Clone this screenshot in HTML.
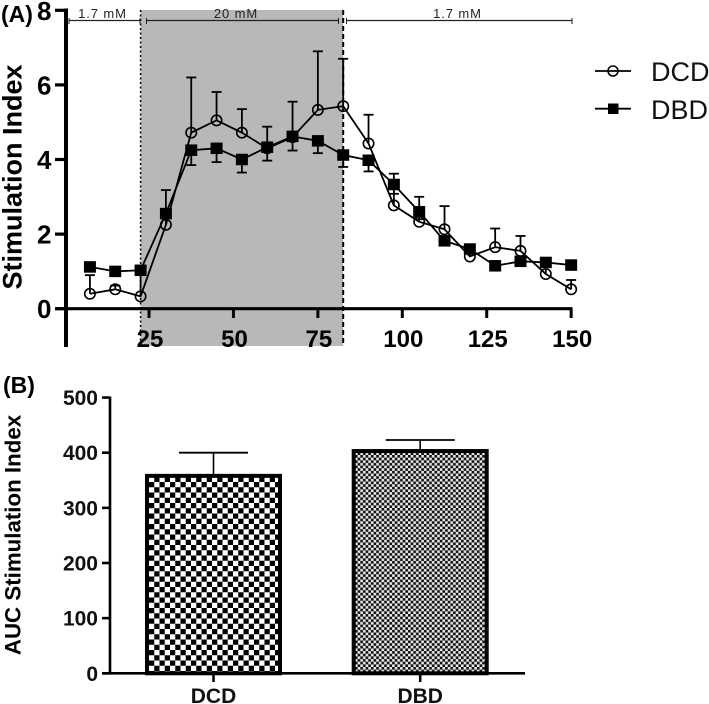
<!DOCTYPE html>
<html lang="en">
<head>
<meta charset="utf-8">
<title>Stimulation Index chart</title>
<style>
html,body{margin:0;padding:0;background:#fff;width:709px;height:704px;overflow:hidden}
svg{display:block;font-family:"Liberation Sans",sans-serif}
</style>
</head>
<body>
<svg id="chart" width="709" height="704" viewBox="0 0 709 704" xmlns="http://www.w3.org/2000/svg">
<defs>
<pattern id="check-dcd" width="10.5" height="10.5" patternUnits="userSpaceOnUse" x="149" y="482">
<rect width="10.5" height="10.5" fill="#fff"/>
<rect width="5.25" height="5.25" fill="#000"/>
<rect x="5.25" y="5.25" width="5.25" height="5.25" fill="#000"/>
</pattern>
<pattern id="check-dbd" width="5.3" height="5.3" patternUnits="userSpaceOnUse" x="355" y="455">
<rect width="5.3" height="5.3" fill="#e8e8e8"/>
<rect width="2.65" height="2.65" fill="#111"/>
<rect x="2.65" y="2.65" width="2.65" height="2.65" fill="#111"/>
</pattern>
</defs>
</svg>
<script>
var timeTicks = [25, 50, 75, 100, 125, 150];
var siTicks = [0, 2, 4, 6, 8];
var times = [7.5, 15, 22.5, 30, 37.5, 45, 52.5, 60, 67.5, 75, 82.5, 90, 97.5, 105, 112.5, 120, 127.5, 135, 142.5, 150];
var dcdValues = [0.4, 0.52, 0.33, 2.25, 4.72, 5.05, 4.72, 4.3, 4.6, 5.33, 5.43, 4.43, 2.77, 2.33, 2.13, 1.4, 1.65, 1.55, 0.93, 0.52];
var dbdValues = [1.12, 1.0, 1.03, 2.55, 4.25, 4.3, 4.0, 4.33, 4.62, 4.5, 4.12, 3.98, 3.33, 2.6, 1.82, 1.6, 1.15, 1.27, 1.24, 1.17];
var dcdErrors = [0.5, 0.1, 0.6, 0.93, 1.48, 0.76, 0.63, 0.58, 0.95, 1.57, 1.27, 0.77, 0.85, 0.67, 0.62, 0.2, 0.5, 0.4, 0.2, 0.25];
var dbdErrors = [0.05, 0.05, 0.05, 0.1, 0.4, 0.37, 0.35, 0.36, 0.38, 0.33, 0.32, 0.3, 0.25, 0.2, 0.1, 0.1, 0.05, 0.05, 0.05, 0.05];
var aucTicks = [0, 100, 200, 300, 400, 500];
var aucGroups = ["DCD", "DBD"];
var aucValues = [358, 403];
var aucErrors = [42, 20];

var svg = document.getElementById('chart');
var NS = 'http://www.w3.org/2000/svg';
function add(tag, attrs, name, text) {
  var el = document.createElementNS(NS, tag);
  for (var k in attrs) { el.setAttribute(k, attrs[k]); }
  
  
  if (text !== undefined) { el.textContent = text; }
  svg.appendChild(el);
  return el;
}
function line(x1, y1, x2, y2, w, name, extra) {
  var a = {x1: x1, y1: y1, x2: x2, y2: y2, stroke: '#000', 'stroke-width': w};
  if (extra) { for (var k in extra) { a[k] = extra[k]; } }
  return add('line', a, name);
}
function xA(v) { return 64.6 + v * 3.377; }
function yA(v) { return 308.7 - v * 37.3; }
function yB(v) { return 673.3 - v * 0.5515; }

/* Panel A: shaded window */
add('rect', {x: xA(22.5), y: 10, width: xA(82.5) - xA(22.5), height: 336, fill: '#b8b8b8'}, 'high-glucose-shading');
line(xA(22.5), 10, xA(22.5), 346, 1.5, 'shading-left-boundary', {'stroke-dasharray': '2 2.5'});
line(xA(82.5), 10, xA(82.5), 346, 2, 'shading-right-boundary', {'stroke-dasharray': '5 3'});

/* Panel A: concentration brackets */
function bracket(x1, x2, label, tx, name) {
  line(x1, 20.5, x2, 20.5, 1.2, name + '-bracket', {stroke: '#222'});
  line(x1, 18, x1, 24, 1, name + '-cap-left', {stroke: '#222'});
  line(x2, 18, x2, 24, 1, name + '-cap-right', {stroke: '#222'});
  add('text', {x: tx, y: 18, 'text-anchor': 'middle', 'font-size': 13, 'letter-spacing': '0.9', fill: '#222'}, name + '-label', label);
}
bracket(69, 140, '1.7 mM', 102.5, 'low-glucose-pre');
bracket(146.5, 338.5, '20 mM', 236, 'high-glucose');
bracket(346.5, 572, '1.7 mM', 457.5, 'low-glucose-post');

/* Panel A: axes */
line(66, 8.5, 66, 347, 4, 'y-axis-a');
line(55, 308.7, 572.5, 308.7, 3.2, 'x-axis-a');
siTicks.forEach(function (t) {
  line(55, yA(t), 66, yA(t), 3.2, 'y-tick-a-' + t);
  add('text', {x: 51.5, y: yA(t) + 9.5, 'text-anchor': 'end', 'font-size': 26, 'font-weight': 'bold'}, 'y-tick-label-a-' + t, String(t));
});
timeTicks.forEach(function (t) {
  line(xA(t), 308.7, xA(t), 318, 3, 'x-tick-a-' + t);
  add('text', {x: xA(t) + 1, y: 347, 'text-anchor': 'middle', 'font-size': 24, 'font-weight': 'bold'}, 'x-tick-label-a-' + t, String(t));
});
add('text', {x: 0, y: 0, transform: 'translate(21.5,177) rotate(-90)', 'text-anchor': 'middle', 'font-size': 27, 'font-weight': 'bold'}, 'y-axis-title-a', 'Stimulation Index');
add('text', {x: 1, y: 22, 'font-size': 23, 'font-weight': 'bold'}, 'panel-a-label', '(A)');

/* Panel A: one-sided error bars (DCD upward, DBD downward) */
function errorBar(x, from, to, name) {
  line(x, from, x, to, 1.8, name);
  line(x - 5, to, x + 5, to, 1.8, name + '-cap');
}
times.forEach(function (t, i) {
  errorBar(xA(t), yA(dcdValues[i]), yA(dcdValues[i] + dcdErrors[i]), 'dcd-error-' + t);
  errorBar(xA(t), yA(dbdValues[i]), yA(dbdValues[i] - dbdErrors[i]), 'dbd-error-' + t);
});

/* Panel A: series */
function pts(vals) {
  return times.map(function (t, i) { return xA(t) + ',' + yA(vals[i]); }).join(' ');
}
add('polyline', {points: pts(dcdValues), fill: 'none', stroke: '#000', 'stroke-width': 1.8}, 'dcd-line');
add('polyline', {points: pts(dbdValues), fill: 'none', stroke: '#000', 'stroke-width': 1.8}, 'dbd-line');
times.forEach(function (t, i) {
  add('circle', {cx: xA(t), cy: yA(dcdValues[i]), r: 5.2, fill: 'none', stroke: '#000', 'stroke-width': 1.6}, 'dcd-point-' + t);
  add('rect', {x: xA(t) - 6, y: yA(dbdValues[i]) - 5.75, width: 12, height: 11.5, fill: '#000'}, 'dbd-point-' + t);
});

/* Panel A: legend */
line(595, 71, 631, 71, 1.8, 'legend-dcd-line');
add('circle', {cx: 613, cy: 71, r: 5, fill: 'none', stroke: '#000', 'stroke-width': 1.6}, 'legend-dcd-marker');
add('text', {x: 651, y: 81, 'font-size': 27, fill: '#111'}, 'legend-dcd-label', 'DCD');
line(595, 108.7, 631, 108.7, 1.8, 'legend-dbd-line');
add('rect', {x: 608, y: 103.5, width: 10.5, height: 10.5, fill: '#000'}, 'legend-dbd-marker');
add('text', {x: 651, y: 119, 'font-size': 27, fill: '#111'}, 'legend-dbd-label', 'DBD');

/* Panel B */
add('text', {x: 3, y: 393, 'font-size': 23, 'font-weight': 'bold'}, 'panel-b-label', '(B)');
add('text', {x: 0, y: 0, transform: 'translate(20.5,535) rotate(-90)', 'text-anchor': 'middle', 'font-size': 22.3, 'font-weight': 'bold'}, 'y-axis-title-b', 'AUC Stimulation Index');

var barLefts = {DCD: 147, DBD: 353.7};
var fills = {DCD: 'url(#check-dcd)', DBD: 'url(#check-dbd)'};
aucGroups.forEach(function (g, i) {
  var cx = barLefts[g] + 66.5;
  var top = yB(aucValues[i]);
  line(cx, yB(aucValues[i] + aucErrors[i]), cx, top, 1.6, 'auc-error-' + g);
  line(cx - 34.5, yB(aucValues[i] + aucErrors[i]), cx + 34.5, yB(aucValues[i] + aucErrors[i]), 1.8, 'auc-error-cap-' + g);
  add('rect', {x: barLefts[g], y: top, width: 133, height: yB(0) - top, fill: fills[g], stroke: '#000', 'stroke-width': 4}, 'auc-bar-' + g);
  line(cx, yB(0), cx, 682, 2.5, 'x-tick-b-' + g);
  add('text', {x: cx, y: 703, 'text-anchor': 'middle', 'font-size': 21, 'font-weight': 'bold', fill: '#111'}, 'x-tick-label-b-' + g, g);
});
line(110, 396.5, 110, 674, 2.6, 'y-axis-b');
line(102, 673.3, 525, 673.3, 2.6, 'x-axis-b');
aucTicks.forEach(function (t) {
  line(102, yB(t), 110, yB(t), 2.6, 'y-tick-b-' + t);
  add('text', {x: 98, y: yB(t) + 7.5, 'text-anchor': 'end', 'font-size': 21, 'font-weight': 'bold', fill: '#111'}, 'y-tick-label-b-' + t, String(t));
});
</script>
</body>
</html>
